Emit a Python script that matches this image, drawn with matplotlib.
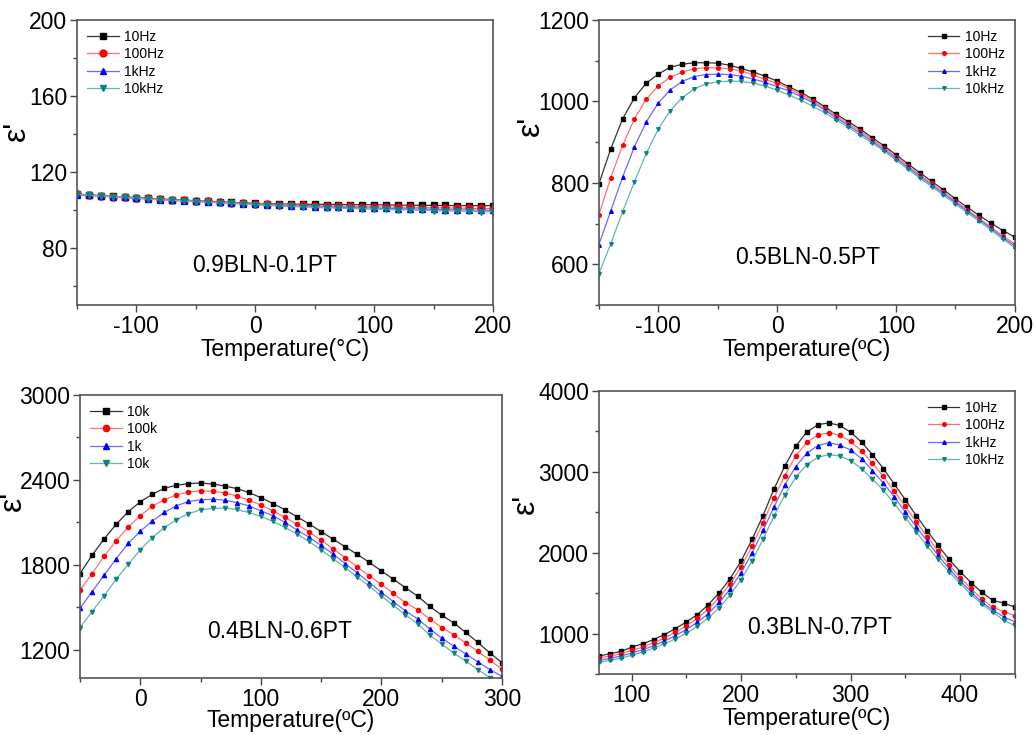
import numpy as np
import matplotlib
matplotlib.use('Agg')
import matplotlib.pyplot as plt
from matplotlib.ticker import MultipleLocator

plt.rcParams['font.family'] = ['Liberation Sans', 'DejaVu Sans']
plt.rcParams['axes.unicode_minus'] = False

##### 0.9BLN-0.1PT
temp1 = np.arange(-150, 201, 10)
eps1_10hz = [108.3, 108.0, 107.6, 107.2, 106.9, 106.5, 106.2, 105.8, 105.5, 105.2, 104.9, 104.6,
             104.3, 104.0, 103.8, 103.5, 103.3, 103.2, 103.1, 103.0, 103.0, 102.9, 102.9, 102.8,
             102.8, 102.8, 102.7, 102.6, 102.5, 102.5, 102.4, 102.4, 102.3, 102.3, 102.3, 102.3]
eps1_100hz = [108.2, 107.9, 107.5, 107.1, 106.8, 106.4, 106.1, 105.7, 105.4, 105.1, 104.8, 104.5,
              104.2, 103.9, 103.6, 103.4, 103.1, 102.9, 102.7, 102.5, 102.3, 102.1, 102.0, 101.9,
              101.8, 101.7, 101.6, 101.5, 101.4, 101.3, 101.2, 101.1, 101.0, 100.9, 100.8, 100.7]
eps1_1khz = [108.0, 107.7, 107.3, 106.9, 106.6, 106.2, 105.9, 105.5, 105.2, 104.9, 104.6, 104.3,
             104.0, 103.7, 103.4, 103.0, 102.7, 102.4, 102.2, 102.0, 101.8, 101.6, 101.4, 101.3,
             101.1, 101.0, 100.8, 100.7, 100.6, 100.5, 100.4, 100.2, 100.1, 100.0, 99.9, 99.8]
eps1_10khz = [108.2, 107.8, 107.4, 107.0, 106.6, 106.2, 105.8, 105.4, 105.1, 104.7, 104.4, 104.1,
              103.8, 103.5, 103.1, 102.8, 102.5, 102.2, 101.9, 101.6, 101.4, 101.2, 101.0, 100.8,
              100.6, 100.5, 100.3, 100.1, 100.0, 99.8, 99.7, 99.5, 99.4, 99.3, 99.1, 99.0]

##### 0.5BLN-0.5PT
temp2 = np.arange(-150, 201, 10)
eps2_10hz = [797, 883, 957, 1009, 1045, 1067, 1084, 1091, 1095, 1095, 1094, 1089, 1081, 1072, 1062, 1050,
             1036, 1022, 1006, 987, 968, 950, 932, 911, 891, 869, 847, 825, 804, 783, 761, 740,
             720, 701, 683, 667]
eps2_100hz = [721, 812, 892, 957, 1006, 1038, 1059, 1072, 1080, 1083, 1082, 1080, 1075, 1065, 1054, 1045,
              1031, 1017, 1001, 983, 963, 945, 927, 906, 886, 864, 842, 820, 799, 777, 755, 734,
              713, 691, 670, 650]
eps2_1khz = [648, 731, 814, 889, 950, 996, 1028, 1049, 1061, 1066, 1067, 1066, 1062, 1055, 1047, 1036,
             1026, 1012, 997, 979, 959, 941, 922, 902, 882, 860, 838, 816, 795, 774, 752, 731,
             710, 688, 666, 645]
eps2_10khz = [576, 650, 729, 803, 873, 932, 977, 1009, 1030, 1043, 1048, 1050, 1049, 1045, 1038, 1027,
              1016, 1003, 988, 973, 954, 936, 917, 898, 878, 856, 834, 812, 791, 770, 748, 727,
              706, 684, 662, 641]

##### 0.4BLN-0.6PT
temp3 = np.arange(-50, 301, 10)
eps3_a = [1738, 1867, 1983, 2086, 2175, 2245, 2299, 2341, 2362, 2374, 2378, 2371, 2357, 2339, 2311, 2275,
          2233, 2189, 2140, 2089, 2035, 1981, 1927, 1874, 1817, 1757, 1698, 1638, 1579, 1507, 1444, 1390,
          1322, 1252, 1177, 1109]
eps3_b = [1621, 1738, 1860, 1969, 2068, 2147, 2215, 2259, 2294, 2315, 2322, 2320, 2308, 2287, 2257, 2222,
          2182, 2135, 2086, 2032, 1974, 1913, 1850, 1785, 1722, 1661, 1598, 1532, 1483, 1418, 1357, 1306,
          1247, 1189, 1126, 1063]
eps3_c = [1493, 1610, 1726, 1843, 1951, 2037, 2110, 2170, 2217, 2248, 2259, 2264, 2257, 2240, 2217, 2182,
          2147, 2100, 2046, 1995, 1937, 1876, 1808, 1743, 1675, 1605, 1539, 1474, 1418, 1348, 1282, 1226,
          1170, 1114, 1060, 1013]
eps3_d = [1357, 1469, 1581, 1698, 1803, 1906, 1993, 2063, 2119, 2161, 2189, 2198, 2201, 2191, 2170, 2142,
          2107, 2065, 2018, 1965, 1906, 1843, 1780, 1714, 1649, 1579, 1513, 1446, 1383, 1306, 1240, 1177,
          1119, 1060, 1002, 943]

##### 0.3BLN-0.7PT
temp4 = np.arange(70, 451, 10)
eps4_10hz = [722, 750, 779, 832, 873, 926, 988, 1062, 1144, 1234, 1357, 1504, 1681, 1898, 2164, 2459,
             2787, 3074, 3320, 3492, 3582, 3607, 3574, 3492, 3369, 3213, 3041, 2848, 2656, 2459, 2271, 2090,
             1918, 1767, 1631, 1508, 1410, 1377, 1328]
eps4_100hz = [697, 722, 750, 791, 832, 886, 943, 1017, 1095, 1189, 1304, 1443, 1619, 1824, 2082, 2369,
              2676, 2955, 3197, 3365, 3455, 3484, 3455, 3377, 3258, 3107, 2943, 2758, 2574, 2381, 2197, 2021,
              1849, 1693, 1558, 1426, 1324, 1271, 1222]
eps4_1khz = [668, 693, 722, 759, 800, 849, 906, 976, 1050, 1140, 1246, 1385, 1549, 1754, 1996, 2275,
             2566, 2840, 3066, 3230, 3324, 3361, 3332, 3271, 3164, 3016, 2861, 2689, 2504, 2320, 2144, 1967,
             1803, 1652, 1517, 1385, 1291, 1205, 1148]
eps4_10khz = [648, 668, 697, 730, 771, 820, 873, 935, 1004, 1090, 1193, 1320, 1476, 1668, 1898, 2164,
              2451, 2717, 2935, 3090, 3180, 3213, 3197, 3139, 3041, 2910, 2771, 2607, 2435, 2258, 2082, 1918,
              1762, 1623, 1484, 1365, 1263, 1164, 1099]

labels_hz = ['10Hz', '100Hz', '1kHz', '10kHz']
labels_k = ['10k', '100k', '1k', '10k']

colors = ['black', 'red', 'blue', '#0f8282']
linecolors = ['#333333', '#ff7070', '#6a6aff', '#66b3b3']
markers = ['s', 'o', '^', 'v']


def panel(ax, x, series, labels, ms, leg_loc, leg_ms, xlim, ylim, xmaj, xmin, ymaj, ymin,
          name, name_xy, xlab, ylab_xy, xpad=0):
    for y, lab, c, lc, m in zip(series, labels, colors, linecolors, markers):
        ax.plot(x, y, color=lc, lw=0.9, marker=m, ms=ms, mfc=c, mec=c, label=lab)
    ax.set_xlim(*xlim)
    ax.set_ylim(*ylim)
    ax.xaxis.set_major_locator(MultipleLocator(xmaj))
    ax.xaxis.set_minor_locator(MultipleLocator(xmin))
    ax.yaxis.set_major_locator(MultipleLocator(ymaj))
    ax.yaxis.set_minor_locator(MultipleLocator(ymin))
    ax.tick_params(which='major', direction='out', length=5, width=1, color='#444444',
                   labelsize=16.5, pad=2, top=False, right=False)
    ax.tick_params(which='minor', direction='out', length=3, width=1, color='#444444',
                   top=False, right=False)
    for s in ax.spines.values():
        s.set_color('#555555')
        s.set_linewidth(1.2)
    ax.set_xlabel(xlab, fontsize=16.5, labelpad=xpad)
    ax.set_ylabel("\u03b5'", fontsize=23, rotation=90)
    ax.yaxis.set_label_coords(*ylab_xy)
    ax.text(name_xy[0], name_xy[1], name, transform=ax.transAxes, fontsize=16.5,
            ha='center', va='center')
    leg = ax.legend(loc=leg_loc, frameon=False, fontsize=10, handlelength=2.3,
                    handletextpad=0.4, labelspacing=0.25, borderaxespad=0.3,
                    markerscale=leg_ms / ms)
    return leg


fig = plt.figure(figsize=(10.36, 7.35), dpi=100)
ax1 = fig.add_axes([0.0743, 0.585, 0.4015, 0.3878])
ax2 = fig.add_axes([0.578, 0.585, 0.4015, 0.3878])
ax3 = fig.add_axes([0.0772, 0.0775, 0.4073, 0.3851])
ax4 = fig.add_axes([0.578, 0.083, 0.4015, 0.385])

panel(ax1, temp1, [eps1_10hz, eps1_100hz, eps1_1khz, eps1_10khz], labels_hz, 5.0, 'upper left', 5.0,
      (-150, 200), (50, 200), 100, 50, 40, 20, '0.9BLN-0.1PT', (0.452, 0.137),
      'Temperature(\u00b0C)', (-0.108, 0.61))
panel(ax2, temp2, [eps2_10hz, eps2_100hz, eps2_1khz, eps2_10khz], labels_hz, 2.6, 'upper right', 2.6,
      (-150, 200), (500, 1200), 100, 50, 200, 100, '0.5BLN-0.5PT', (0.502, 0.168),
      'Temperature(\u00baC)', (-0.127, 0.63))
panel(ax3, temp3, [eps3_a, eps3_b, eps3_c, eps3_d], labels_k, 3.0, 'upper left', 4.5,
      (-50, 300), (1000, 3000), 100, 50, 600, 300, '0.4BLN-0.6PT', (0.474, 0.164),
      'Temperature(\u00baC)', (-0.123, 0.627), xpad=-1)
panel(ax4, temp4, [eps4_10hz, eps4_100hz, eps4_1khz, eps4_10khz], labels_hz, 3.0, 'upper right', 2.6,
      (70, 450), (500, 4000), 100, 50, 1000, 500, '0.3BLN-0.7PT', (0.531, 0.163),
      'Temperature(\u00baC)', (-0.14, 0.60))

fig.savefig('out.png', dpi=100)
